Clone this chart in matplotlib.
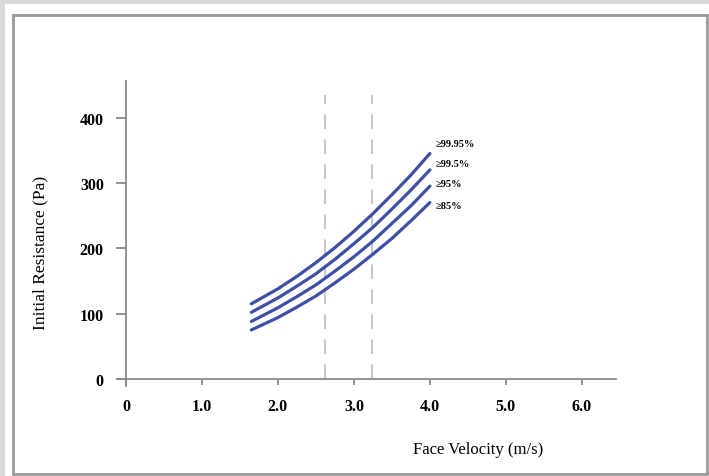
import matplotlib.pyplot as plt
from matplotlib.patches import Rectangle

# Data
velocity = [1.65, 2.0, 2.25, 2.5, 2.75, 3.0, 3.25, 3.5, 3.75, 4.0]
r_9995 = [115, 138, 157, 178, 201, 226, 253, 282, 312, 345]
r_995 = [102, 124, 142, 161, 183, 207, 232, 260, 289, 320]
r_95 = [88, 109, 126, 144, 165, 187, 211, 238, 265, 295]
r_85 = [75, 94, 110, 127, 147, 168, 191, 215, 242, 270]
series = [r_9995, r_995, r_95, r_85]
labels = ["\u226599.95%", "\u226599.5%", "\u226595%", "\u226585%"]
label_y = [360, 329, 299, 266]
dash_x = [2.62, 3.24]
xticks = [0, 1, 2, 3, 4, 5, 6]
xtick_labels = ["0", "1.0", "2.0", "3.0", "4.0", "5.0", "6.0"]
yticks = [0, 100, 200, 300, 400]

W, H = 709, 477
fig = plt.figure(figsize=(W / 100, H / 100), dpi=100, facecolor="#d9d9db")
plt.rcParams['font.family'] = ['Liberation Serif', 'DejaVu Serif']

# white panel and grey frame
fig.patches.append(Rectangle((5 / W, 0), 1, (H - 5) / H, transform=fig.transFigure,
                             facecolor="white", edgecolor="none", zorder=-2))
fig.patches.append(Rectangle((13 / W, 2 / H), (W - 15) / W, (H - 18) / H,
                             transform=fig.transFigure, facecolor="none",
                             edgecolor="#9a9a9a", lw=2, zorder=-1))

ax = fig.add_axes([118.4 / W, (H - 386.5) / H, (616 - 118.4) / W, (386.5 - 82) / H])
ax.set_facecolor("none")
ax.set_xlim(-0.1, 6.45)
ax.set_ylim(-10, 456)

for x in dash_x:
    ax.plot([x, x], [0, 435], color="#c8c8c8", lw=1.5, ls=(0, (7, 5)), zorder=1)

for ys in series:
    ax.plot(velocity, ys, color="#3f4fa6", lw=2.3, zorder=3, solid_capstyle="round")

for lab, yy in zip(labels, label_y):
    ax.text(4.07, yy, lab, fontsize=7.5, fontweight="bold", va="center", ha="left")

for s in ["top", "right"]:
    ax.spines[s].set_visible(False)
ax.spines["left"].set_position(("data", 0))
ax.spines["bottom"].set_position(("data", 0))
for s in ["left", "bottom"]:
    ax.spines[s].set_color("#8a8a8a")
    ax.spines[s].set_linewidth(1.3)

ax.set_xticks(xticks)
ax.set_xticklabels(xtick_labels)
ax.set_yticks(yticks)
ax.tick_params(colors="#8a8a8a", labelcolor="black", labelsize=11.5, width=1.3)
ax.tick_params(axis="y", length=7, pad=9)
ax.tick_params(axis="x", length=4, pad=10)
for t in ax.get_xticklabels() + ax.get_yticklabels():
    t.set_fontweight("bold")

fig.text(478 / W, 1 - 450 / H, "Face Velocity (m/s)", fontsize=12, ha="center", va="center")
fig.text(40 / W, 1 - 253 / H, "Initial Resistance (Pa)", fontsize=12.5, ha="center",
         va="center", rotation=90)

fig.savefig("out.png", dpi=100, facecolor=fig.get_facecolor())
